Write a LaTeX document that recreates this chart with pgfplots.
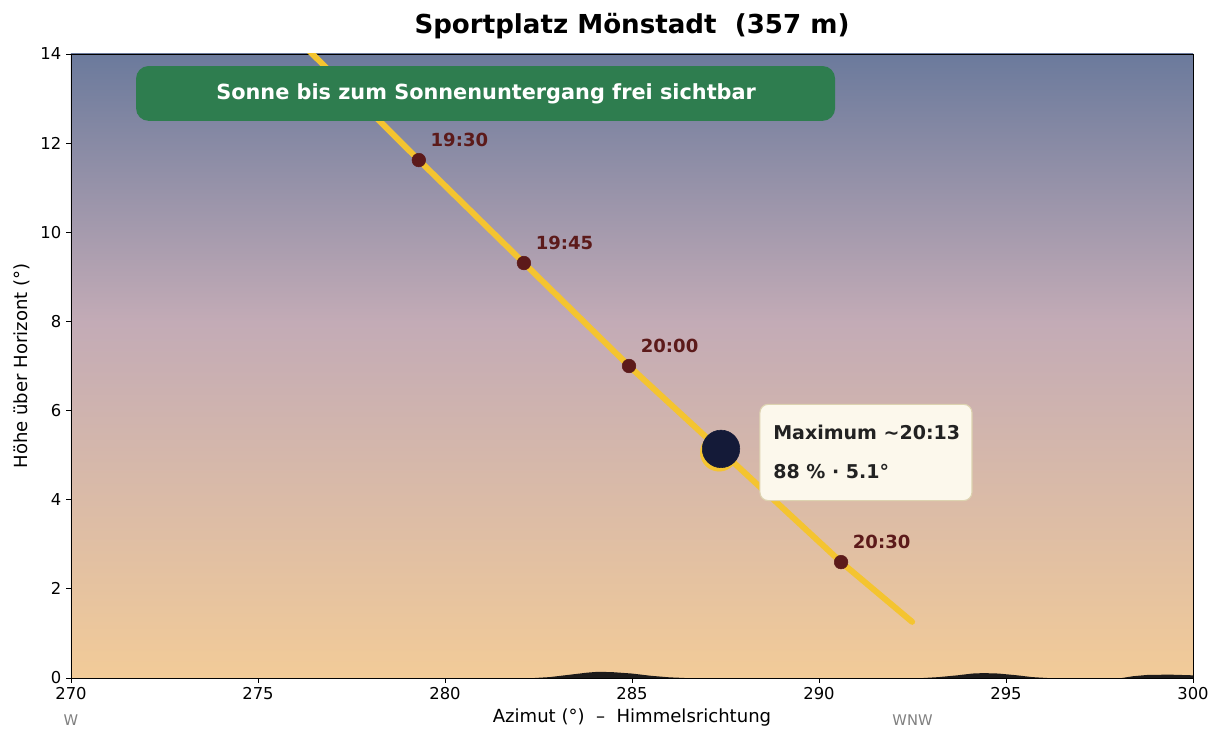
\documentclass[border=0pt]{standalone}
\usepackage{fontspec}
\setmainfont{DejaVu Sans}
\usepackage{pgfplots}
\pgfplotsset{compat=1.18}
\definecolor{skytop}{HTML}{6B7A9C}
\definecolor{skymid}{HTML}{C3ABB6}
\definecolor{skybot}{HTML}{F2CB98}
\definecolor{sunline}{HTML}{F4C430}
\definecolor{dotred}{HTML}{5C1A1A}
\definecolor{moon}{HTML}{141A38}
\definecolor{boxgreen}{HTML}{2E7D4F}
\definecolor{notefill}{HTML}{FCF8EC}
\definecolor{noteedge}{HTML}{DDD3B0}
\definecolor{notetext}{HTML}{222222}
\definecolor{hill}{HTML}{1C1A1A}
\pgfdeclareverticalshading{sky}{100bp}{color(0bp)=(skybot); color(25bp)=(skybot); color(53.5bp)=(skymid); color(75bp)=(skytop); color(100bp)=(skytop)}

\begin{document}
\begin{tikzpicture}
\useasboundingbox (-51.12pt,-47.52pt) rectangle (830.16pt,488.16pt);
\begin{axis}[
 at={(0,0)}, anchor=south west,
 scale only axis, width=807.84pt, height=449.28pt,
 xmin=270, xmax=300, ymin=0, ymax=14,
 xtick={270,275,...,300}, ytick={0,2,...,14},
 tick align=outside, tick pos=left, major tick length=3.5pt,
 tick style={black, line width=0.6pt},
 axis line style={line width=0.6pt},
 ticklabel style={font=\fontsize{11.8}{13}\selectfont},
 /pgf/number format/assume math mode=true,
 xlabel={Azimut (°)\ \ –\ \ Himmelsrichtung},
 ylabel={Höhe über Horizont (°)},
 every axis x label/.style={at={(axis description cs:0.5,-0.0641)}, anchor=center, font=\fontsize{13}{15}\selectfont},
 every axis y label/.style={at={(axis description cs:-0.0437,0.5)}, rotate=90, anchor=center, font=\fontsize{13}{15}\selectfont},
 title={Sportplatz Mönstadt\ \ (357 m)},
 every axis title/.style={at={(axis description cs:0.5,1.0449)}, anchor=center, font=\fontsize{18.8}{22}\selectfont\bfseries},
 axis background/.style={shading=sky},
 clip mode=individual,
]
% horizon silhouette
\addplot[fill=hill, draw=none] coordinates {
 (270,0) (282.4,0) (282.8,0.02) (283.3,0.07) (283.8,0.12) (284.1,0.14) (284.5,0.13) (285,0.10) (285.5,0.05) (286,0.015) (286.4,0)
 (292.8,0) (293.2,0.02) (293.7,0.06) (294.1,0.10) (294.4,0.11) (294.8,0.10) (295.3,0.06) (295.7,0.02) (296.1,0)
 (298.1,0) (298.4,0.04) (298.8,0.07) (299.4,0.075) (300,0.06) (300,0)} \closedcycle;
% sun path
\addplot[sunline, line width=4.3pt, line cap=round, line join=round, no marks] coordinates {
 (275.5,14.8) (279.30,11.62) (282.11,9.31) (284.92,7.00) (287.35,5.12) (290.59,2.60) (292.49,1.26)};
% time markers
\addplot[only marks, mark=*, mark size=4.9pt, color=dotred] coordinates {
 (279.30,11.62) (282.11,9.31) (284.92,7.00) (290.59,2.60)};
% eclipse maximum: sun and moon
\addplot[only marks, mark=*, mark size=13.5pt, color=sunline] coordinates {(287.33,5.06)};
\addplot[only marks, mark=*, mark size=13.5pt, color=moon] coordinates {(287.38,5.14)};

\node[dotred, anchor=west, font=\fontsize{13}{15}\selectfont\bfseries, xshift=5pt, yshift=14.4pt] at (axis cs:279.30,11.62) {19:30};
\node[dotred, anchor=west, font=\fontsize{13}{15}\selectfont\bfseries, xshift=5pt, yshift=14.4pt] at (axis cs:282.11,9.31) {19:45};
\node[dotred, anchor=west, font=\fontsize{13}{15}\selectfont\bfseries, xshift=5pt, yshift=14.4pt] at (axis cs:284.92,7.00) {20:00};
\node[dotred, anchor=west, font=\fontsize{13}{15}\selectfont\bfseries, xshift=5pt, yshift=14.4pt] at (axis cs:290.59,2.60) {20:30};

% green banner
\fill[boxgreen, rounded corners=9pt] (axis cs:271.74,12.50) rectangle (axis cs:290.43,13.73);
\node[white, font=\fontsize{15}{18}\selectfont\bfseries] at (axis cs:281.10,13.115) {Sonne bis zum Sonnenuntergang frei sichtbar};

% annotation box
\filldraw[fill=notefill, draw=noteedge, line width=0.8pt, rounded corners=6pt] (axis cs:288.42,3.98) rectangle (axis cs:294.09,6.14);
\node[notetext, anchor=west, inner sep=0pt, font=\fontsize{13.7}{16}\selectfont\bfseries] at (axis cs:288.77,5.52) {Maximum \textasciitilde20:13};
\node[notetext, anchor=west, inner sep=0pt, font=\fontsize{13.7}{16}\selectfont\bfseries] at (axis cs:288.77,4.64) {88 \% · 5.1°};

% compass labels
\node[gray, font=\fontsize{10.6}{12}\selectfont] at (axis description cs:0,-0.0673) {W};
\node[gray, font=\fontsize{10.6}{12}\selectfont] at (axis description cs:0.75,-0.0673) {WNW};
\end{axis}
\end{tikzpicture}
\end{document}
